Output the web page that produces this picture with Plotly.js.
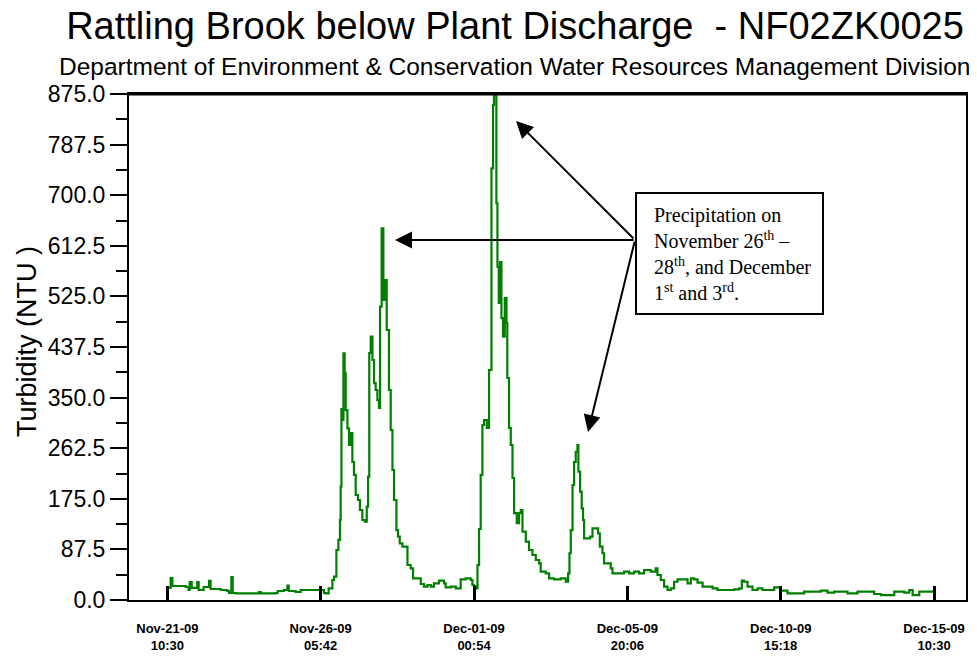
<!DOCTYPE html>
<html>
<head>
<meta charset="utf-8">
<script src="https://cdn.plot.ly/plotly-3.0.1.min.js"></script>
<style>
  html, body { margin: 0; padding: 0; background: #ffffff; }
  #chart { width: 977px; height: 658px; }
</style>
</head>
<body>
<div id="chart"></div>
<script>
// ---- data ----
// hours elapsed since Nov-21-09 10:30
const hoursSinceStart = [
  0, 2.5, 3.8, 13.8, 16.0, 16.8, 18.3, 22.5, 23.5, 27.3,
  31.3, 32.5, 40.1, 45.1, 46.3, 48.1, 49.1, 51.3, 68.8, 70.1,
  81.4, 82.9, 87.6, 90.2, 91.2, 96.4, 100.2, 115.2, 117.7, 119.0,
  121.2, 124.0, 125.2, 127.0, 128.5, 129.7, 130.2, 130.8, 131.4, 132.3,
  133.2, 134.0, 135.3, 136.5, 137.7, 139.0, 140.2, 141.5, 143.2, 144.7,
  146.5, 148.3, 149.8, 150.8, 151.7, 152.8, 154.1, 155.3, 156.5, 157.8,
  159.0, 159.8, 161.0, 162.3, 163.5, 164.8, 166.5, 167.8, 169.1, 170.3,
  172.1, 173.3, 174.6, 176.6, 179.1, 180.4, 182.8, 184.6, 186.6, 190.4,
  192.8, 195.4, 197.9, 200.3, 204.1, 207.9, 209.1, 212.9, 216.7, 219.1,
  220.4, 224.2, 227.9, 229.2, 230.4, 232.2, 233.0, 234.2, 235.4, 236.7,
  237.9, 240.0, 241.7, 242.4, 243.5, 244.7, 245.4, 246.5, 247.2, 248.0,
  249.0, 249.9, 251.0, 252.2, 253.5, 254.8, 255.4, 256.7, 258.0, 259.3,
  260.5, 262.5, 264.2, 265.5, 266.8, 269.3, 271.7, 274.3, 276.8, 279.3,
  280.5, 284.3, 286.8, 290.5, 295.6, 299.3, 301.1, 302.1, 303.1, 304.4,
  305.6, 306.8, 308.1, 308.8, 310.1, 311.3, 312.3, 313.1, 315.6, 317.6,
  319.4, 321.9, 323.6, 324.9, 326.9, 328.1, 330.7, 333.1, 334.4, 340.6,
  343.1, 346.9, 350.6, 354.4, 358.2, 363.2, 366.9, 368.2, 370.7, 373.2,
  375.8, 378.2, 380.7, 383.3, 388.2, 390.8, 393.3, 395.7, 398.3, 402.1,
  405.8, 409.6, 413.3, 420.8, 425.8, 429.6, 431.6, 433.3, 435.9, 439.6,
  443.4, 447.1, 453.4, 455.9, 460.9, 465.9, 475.9, 478.4, 485.9, 490.9,
  496.0, 501.0, 506.0, 511.0, 518.5, 526.1, 531.0, 536.1, 542.3, 546.1,
  553.6, 557.4, 559.9, 564.9, 572.3, 576.0
];
// turbidity, NTU
const turbidityNTU = [
  20.8, 38.0, 24.2, 22.5, 17.3, 31.1, 20.8, 31.1, 17.3, 22.5,
  32.9, 19.0, 17.3, 15.6, 12.1, 39.8, 12.1, 11.6, 13.8, 11.6,
  12.1, 15.6, 17.3, 24.7, 15.6, 13.8, 17.3, 17.3, 12.1, 11.6,
  20.2, 34.6, 40.3, 86.5, 103.8, 138.3, 195.9, 330.3, 311.3, 426.6,
  392.0, 328.5, 296.9, 268.0, 288.8, 238.6, 216.2, 181.6, 172.9, 155.6,
  138.3, 135.4, 161.3, 213.2, 427.1, 455.3, 415.0, 375.2, 363.1, 345.8,
  332.0, 507.2, 642.7, 518.8, 553.3, 466.9, 363.1, 294.0, 224.8, 172.9,
  121.0, 109.5, 98.0, 92.2, 92.2, 60.5, 54.8, 37.5, 37.5, 27.7,
  23.0, 25.9, 23.0, 28.9, 33.4, 28.9, 22.0, 23.0, 20.2, 20.2,
  35.8, 37.5, 34.6, 25.9, 24.2, 20.2, 60.5, 122.8, 216.2, 302.6,
  311.3, 297.4, 397.7, 397.7, 746.5, 856.0, 873.2, 873.2, 686.0, 576.3,
  513.6, 584.5, 487.6, 455.3, 522.2, 479.0, 383.9, 297.4, 268.0, 211.0,
  150.4, 133.1, 150.4, 155.6, 118.1, 100.8, 86.5, 77.8, 69.2, 63.5,
  48.9, 46.2, 37.5, 35.8, 37.5, 31.6, 46.2, 80.8, 121.0, 198.9,
  238.6, 256.4, 268.0, 221.9, 187.3, 158.6, 138.3, 106.7, 106.7, 109.5,
  124.0, 124.0, 115.3, 92.2, 80.8, 63.5, 63.5, 54.8, 46.2, 46.2,
  48.9, 46.2, 48.9, 46.2, 51.9, 48.9, 54.8, 43.2, 34.6, 23.0,
  17.3, 20.2, 31.6, 35.8, 35.8, 28.9, 37.5, 35.8, 29.9, 23.0,
  23.0, 20.2, 17.3, 17.3, 18.5, 20.2, 33.4, 31.6, 23.0, 17.3,
  20.2, 17.3, 17.3, 22.0, 16.1, 11.6, 11.6, 14.4, 14.4, 16.1,
  12.6, 14.4, 14.4, 11.6, 14.4, 14.4, 10.4, 8.6, 8.6, 14.4,
  12.6, 17.3, 8.6, 14.4, 14.4, 11.6
];
// x-axis ticks
const tickHours = [0, 115.2, 230.4, 345.6, 460.8, 576];
const tickDateLabels = ['Nov-21-09', 'Nov-26-09', 'Dec-01-09', 'Dec-05-09', 'Dec-10-09', 'Dec-15-09'];
const tickTimeLabels = ['10:30', '05:42', '00:54', '20:06', '15:18', '10:30'];
const xRangeHours = [-28.8, 600];
// y-axis
const yRange = [0, 875];
const yStep = 87.5;
// texts
const chartTitle = 'Rattling Brook below Plant Discharge  - NF02ZK0025';
const chartSubtitle = 'Department of Environment &amp; Conservation Water Resources Management Division';
const yTitle = 'Turbidity (NTU )';
const noteText = 'Precipitation on<br>November 26<sup>th</sup> \u2013<br>28<sup>th</sup>, and December<br>1<sup>st</sup> and 3<sup>rd</sup>.';

// ---- helpers ----
const START_MS = Date.UTC(2009, 10, 21, 10, 30);
function hToDate(h) {
  const d = new Date(START_MS + h * 3600000);
  return d.toISOString().slice(0, 19).replace('T', ' ');
}
const xDates = hoursSinceStart.map(hToDate);

// plot-area pixel geometry helpers (for annotation placement)
const W = 977, H = 658;
const M = { l: 129, r: 11, t: 94, b: 58 };
const PW = W - M.l - M.r, PH = H - M.t - M.b;
const px = x => (x - M.l) / PW;
const py = y => (H - M.b - y) / PH;

const trace = {
  x: xDates,
  y: turbidityNTU,
  type: 'scatter',
  mode: 'lines',
  line: { color: '#007f00', width: 2.2, shape: 'hv' },
  hoverinfo: 'skip',
  showlegend: false
};

const sansFont = 'Liberation Sans, Arial, Helvetica, sans-serif';
const serifFont = 'Liberation Serif, Times New Roman, Times, serif';

const tail = { x: 635, y: 240 };
const tips = [ { x: 516, y: 121 }, { x: 395, y: 240 }, { x: 588, y: 432 } ];

const arrowAnns = tips.map(t => ({
  xref: 'paper', yref: 'paper',
  x: px(t.x), y: py(t.y),
  ax: tail.x - t.x, ay: tail.y - t.y,
  text: '',
  showarrow: true,
  arrowhead: 2, arrowsize: 1.7, arrowwidth: 2, arrowcolor: '#000000',
  standoff: 0, startstandoff: 0
}));

const layout = {
  width: W, height: H,
  margin: M,
  paper_bgcolor: '#ffffff',
  plot_bgcolor: '#ffffff',
  showlegend: false,
  title: {
    text: chartTitle,
    font: { family: sansFont, size: 38, color: '#000000' },
    x: 515 / W, xanchor: 'center', xref: 'container',
    y: 1 - 26 / H, yanchor: 'middle', yref: 'container'
  },
  xaxis: {
    type: 'date',
    range: [hToDate(xRangeHours[0]), hToDate(xRangeHours[1])],
    tickmode: 'array',
    tickvals: tickHours.map(hToDate),
    ticktext: tickDateLabels.map((d, i) => d + '<br>' + tickTimeLabels[i]),
    ticks: 'inside', ticklen: 14, tickwidth: 3, tickcolor: '#000000',
    showline: true, linewidth: 2, linecolor: '#000000', mirror: true,
    showgrid: false, zeroline: false,
    ticklabelstandoff: 15,
    tickfont: { family: sansFont, size: 13, color: '#000000', weight: 'bold' }
  },
  yaxis: {
    range: yRange,
    tickmode: 'linear', tick0: 0, dtick: yStep,
    tickformat: '.1f',
    ticks: 'outside', ticklen: 17, tickwidth: 2, tickcolor: '#000000',
    minor: { tickmode: 'linear', tick0: 0, dtick: yStep / 2, ticks: 'outside', ticklen: 11, tickwidth: 2, tickcolor: '#000000', showgrid: false },
    showline: true, linewidth: 2, linecolor: '#000000', mirror: true,
    showgrid: false, zeroline: false,
    tickfont: { family: sansFont, size: 23, color: '#000000' }
  },
  shapes: [
    { type: 'line', xref: 'paper', yref: 'paper', x0: 0, x1: 1, y0: 1, y1: 1,
      line: { color: '#000000', width: 3 } },
    { type: 'rect', xref: 'paper', yref: 'paper', layer: 'above',
      x0: px(636), x1: px(823), y0: py(314), y1: py(193),
      line: { color: '#000000', width: 2 }, fillcolor: '#ffffff' }
  ],
  annotations: [
    { xref: 'paper', yref: 'paper', x: px(514), y: py(66), xanchor: 'center', yanchor: 'middle',
      text: chartSubtitle, showarrow: false,
      font: { family: sansFont, size: 24.5, color: '#000000' } },
    { xref: 'paper', yref: 'paper', x: px(27), y: py(342), xanchor: 'center', yanchor: 'middle',
      text: yTitle, textangle: -90, showarrow: false,
      font: { family: sansFont, size: 27, color: '#000000' } },
    { xref: 'paper', yref: 'paper', x: px(652), y: py(202), xanchor: 'left', yanchor: 'top',
      text: noteText, align: 'left', showarrow: false,
      font: { family: serifFont, size: 20, color: '#000000' } }
  ].concat(arrowAnns)
};

Plotly.newPlot('chart', [trace], layout, { displayModeBar: false, staticPlot: true });
</script>
</body>
</html>
